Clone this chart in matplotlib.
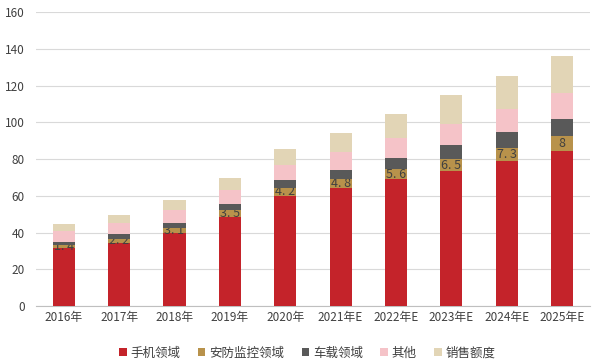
import matplotlib
matplotlib.use('Agg')
import matplotlib.pyplot as plt
import numpy as np

plt.rcParams['font.family'] = ['Noto Sans CJK SC', 'DejaVu Sans']

years = ['2016年', '2017年', '2018年', '2019年', '2020年',
         '2021年E', '2022年E', '2023年E', '2024年E', '2025年E']
phone    = [31.7, 34.4, 39.6, 48.6, 60.0, 64.4, 68.9, 73.5, 78.9, 84.4]
security = [1.4, 2.2, 3.1, 3.5, 4.2, 4.8, 5.6, 6.5, 7.3, 8.0]
vehicle  = [1.9, 2.4, 2.6, 3.4, 4.4, 4.8, 6.2, 7.6, 8.5, 9.5]
other    = [5.8, 6.0, 6.9, 7.5, 8.1, 9.6, 10.5, 11.4, 12.7, 13.8]
sales    = [3.8, 4.7, 5.5, 6.7, 8.7, 10.7, 13.3, 15.7, 17.9, 20.5]

names = ['手机领域', '安防监控领域', '车载领域', '其他', '销售额度']
colors = ['#C4232A', '#B8924B', '#595959', '#F5C3C8', '#E2D5B6']

fig = plt.figure(figsize=(6, 3.64), dpi=100)
ax = fig.add_axes([0.06, 0.159, 0.923, 0.808])

x = np.arange(len(years))
w = 0.4
bottom = np.zeros(len(years))
for vals, name, c in zip([phone, security, vehicle, other, sales], names, colors):
    bars = ax.bar(x, vals, w, bottom=bottom, color=c, label=name, zorder=3)
    if name == '安防监控领域':
        # data labels only on this series, like the original
        labels = [('%g' % v).replace('.', '. ') for v in vals]
        ax.bar_label(bars, labels=labels, label_type='center',
                     fontsize=9, color='#404040')
    bottom += np.array(vals)

ax.set_xlim(-0.5, len(years) - 0.5)
ax.set_ylim(0, 160)
ax.set_yticks(range(0, 161, 20))
ax.set_xticks(x)
ax.set_xticklabels(years)
ax.tick_params(axis='both', length=0, labelsize=8.5, colors='#404040')
ax.tick_params(axis='y', pad=8)
ax.grid(axis='y', color='#D9D9D9', lw=0.8, zorder=0)
for s in ['top', 'right', 'left']:
    ax.spines[s].set_visible(False)
ax.spines['bottom'].set_color('#BFBFBF')

ax.legend(loc='upper center', bbox_to_anchor=(0.49, -0.1), ncol=5,
          frameon=False, fontsize=9, handlelength=0.6, handleheight=0.6,
          columnspacing=1.4, handletextpad=0.3, labelcolor='#404040')

fig.savefig('out.png', dpi=100)
